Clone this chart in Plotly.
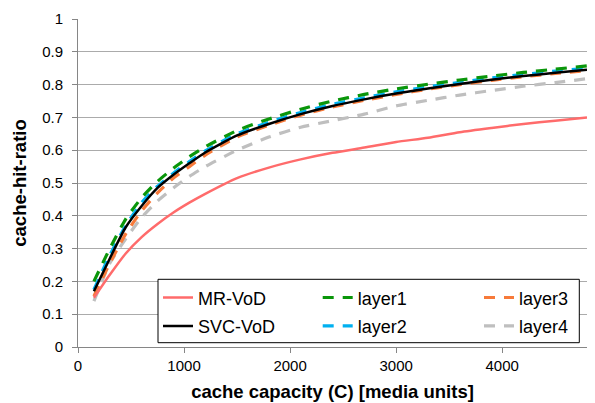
import plotly.graph_objects as go

capacity = [150, 300, 450, 600, 750, 900, 1050, 1200, 1500, 1800, 2100, 2400, 2700, 3000, 3300, 3600, 3900, 4200, 4500, 4800]

mr_vod = [0.15, 0.22, 0.285, 0.335, 0.375, 0.41, 0.44, 0.467, 0.515, 0.547, 0.572, 0.592, 0.608, 0.625, 0.638, 0.655, 0.668, 0.68, 0.69, 0.70]
svc_vod = [0.17, 0.27, 0.365, 0.43, 0.485, 0.525, 0.56, 0.593, 0.645, 0.68, 0.71, 0.735, 0.755, 0.773, 0.788, 0.802, 0.815, 0.826, 0.836, 0.845]
layer1 = [0.2, 0.3, 0.39, 0.455, 0.505, 0.545, 0.58, 0.61, 0.66, 0.695, 0.725, 0.75, 0.77, 0.787, 0.801, 0.814, 0.826, 0.837, 0.847, 0.857]
layer2 = [0.175, 0.28, 0.37, 0.44, 0.49, 0.53, 0.565, 0.598, 0.65, 0.685, 0.715, 0.74, 0.76, 0.778, 0.793, 0.807, 0.82, 0.831, 0.841, 0.85]
layer3 = [0.155, 0.255, 0.345, 0.415, 0.47, 0.515, 0.55, 0.585, 0.64, 0.676, 0.707, 0.732, 0.752, 0.77, 0.786, 0.8, 0.813, 0.824, 0.834, 0.843]
layer4 = [0.14, 0.255, 0.33, 0.395, 0.445, 0.485, 0.52, 0.55, 0.60, 0.64, 0.67, 0.69, 0.71, 0.735, 0.752, 0.768, 0.782, 0.795, 0.806, 0.818]

x_ticks = [0, 1000, 2000, 3000, 4000]
y_ticks = [0, 0.1, 0.2, 0.3, 0.4, 0.5, 0.6, 0.7, 0.8, 0.9, 1]
y_ticklabels = ["0", "0.1", "0.2", "0.3", "0.4", "0.5", "0.6", "0.7", "0.8", "0.9", "1"]

DASH = "11px,9px"
series = [
    # name, values, color, dash, width, legend, rank
    ("layer4", layer4, "#BFBFBF", DASH, 3.2, "legend3", 2),
    ("layer3", layer3, "#F77A3A", DASH, 3.2, "legend3", 1),
    ("layer2", layer2, "#00B0F0", DASH, 3.2, "legend2", 2),
    ("layer1", layer1, "#0A960A", DASH, 3.2, "legend2", 1),
    ("MR-VoD", mr_vod, "#FF6B6B", "solid", 2.5, "legend", 1),
    ("SVC-VoD", svc_vod, "#000000", "solid", 2.5, "legend", 2),
]

fig = go.Figure()
for name, vals, color, dash, width, leg, rank in series:
    fig.add_trace(go.Scatter(
        x=capacity, y=vals, name=name, mode="lines",
        line=dict(color=color, dash=dash, width=width, shape="spline", smoothing=0.6),
        legend=leg, legendrank=rank, legendgroup=name,
    ))

PLOT_L, PLOT_W, PLOT_B, PLOT_H = 78, 509, 347, 328
def px_x(p):
    return (p - PLOT_L) / PLOT_W
def px_y(p):
    return (PLOT_B - p) / PLOT_H

box_left, box_top, box_right, box_bottom = 158, 279.3, 579.3, 342.7
leg_common = dict(
    orientation="v", yanchor="top", xanchor="left",
    bgcolor="rgba(0,0,0,0)", borderwidth=0,
    font=dict(size=18, family="Liberation Sans, Arial, sans-serif", color="#000000"),
    itemwidth=30, tracegroupgap=2, traceorder="grouped",
)

fig.update_layout(
    width=595, height=403,
    margin=dict(l=PLOT_L, r=595 - PLOT_L - PLOT_W, t=PLOT_B - PLOT_H, b=403 - PLOT_B, autoexpand=False),
    paper_bgcolor="white", plot_bgcolor="white",
    font=dict(family="Liberation Sans, Arial, sans-serif", color="#000000"),
    showlegend=True,
    legend=dict(x=px_x(box_left), y=px_y(box_top), **leg_common),
    legend2=dict(x=px_x(317.7), y=px_y(box_top), **leg_common),
    legend3=dict(x=px_x(479), y=px_y(box_top), **leg_common),
    shapes=[dict(
        type="rect", xref="paper", yref="paper",
        x0=px_x(box_left), x1=px_x(box_right), y0=px_y(box_bottom), y1=px_y(box_top),
        fillcolor="white", line=dict(color="#000000", width=1), layer="above",
    )],
    xaxis=dict(
        range=[0, 4800], tickvals=x_ticks, ticktext=[str(v) for v in x_ticks],
        showgrid=False, zeroline=False,
        showline=True, linecolor="#868686", linewidth=1,
        ticks="outside", ticklen=5, tickcolor="#868686",
        tickfont=dict(size=15),
        title=dict(text="<b>cache capacity (C) [media units]</b>", font=dict(size=18.5), standoff=12),
    ),
    yaxis=dict(
        range=[0, 1], tickvals=y_ticks, ticktext=y_ticklabels,
        showgrid=True, gridcolor="#ABABAB", gridwidth=1, zeroline=False,
        showline=True, linecolor="#868686", linewidth=1,
        ticks="outside", ticklen=5, tickcolor="#868686",
        tickfont=dict(size=15), ticklabelstandoff=6,
        title=dict(text="<b>cache-hit-ratio</b>", font=dict(size=18.5), standoff=10),
    ),
)

fig.write_html("out.html")
